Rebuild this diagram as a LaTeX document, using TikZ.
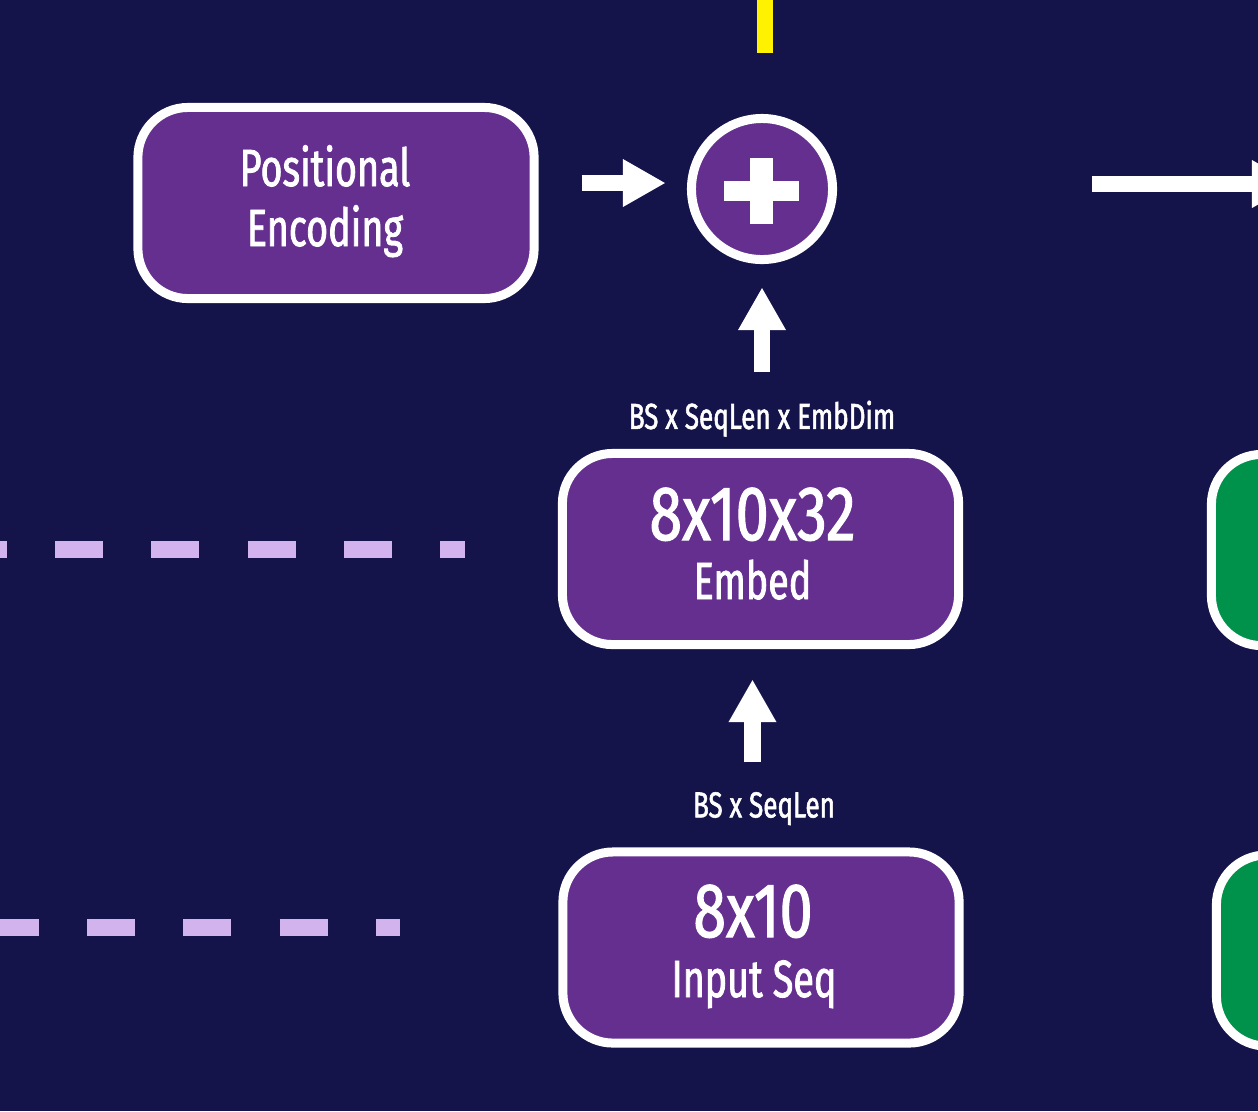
\documentclass[tikz,border=0pt]{standalone}
\usepackage{fontspec}
\setmainfont[FakeStretch=0.72, FakeBold=1.5]{Fira Sans}
\newfontfamily\numfont[FakeStretch=0.77, FakeBold=1.5]{Fira Sans}
\usetikzlibrary{arrows.meta}
\definecolor{navybg}{HTML}{14134A}
\definecolor{vpurple}{HTML}{652F90}
\definecolor{vgreen}{HTML}{00924A}
\definecolor{lavender}{HTML}{D3B3EE}
\tikzset{
  bluebox/.style={draw=white, fill=vpurple, line width=0.09cm, rounded corners=0.5cm,
    minimum width=3.96cm, minimum height=1.91cm, inner sep=0pt},
  greenbox/.style={bluebox, fill=vgreen},
  addcircle/.style={circle, draw=white, fill=vpurple, line width=0.09cm, minimum size=1.41cm, inner sep=0pt},
  boxtext/.style={text=white, inner sep=0pt, font=\fontsize{14.9}{17}\selectfont},
  bignum/.style={text=white, inner sep=0pt, font=\numfont\fontsize{21.9}{25}\selectfont},
  dimlabel/.style={text=white, inner sep=0pt, font=\fontsize{10.3}{12}\selectfont},
  blockarrow/.style={white, line width=0.165cm, -{Triangle[length=0.42cm, width=0.48cm, line width=0pt]}},
  lavdash/.style={lavender, line width=0.17cm, dash pattern=on 0.48cm off 0.4825cm},
  yellowline/.style={yellow, line width=0.16cm}
}
\begin{document}
\begin{tikzpicture}[x=0.01cm, y=-0.01cm]
\fill[navybg] (0,0) rectangle (1258,1111);
\useasboundingbox (0,0) rectangle (1258,1111);
\clip (0,0) rectangle (1258,1111);

% boxes
\node[bluebox] (posenc) at (336,203) {};
\node[bluebox] (embed) at (760.5,549) {};
\node[bluebox] (input) at (761,947.5) {};
\node[greenbox] (outA) at (1409.5,550) {};
\node[greenbox] (outB) at (1414.5,950.5) {};
\node[addcircle] (add) at (762,189) {};

% plus sign
\fill[white] ([shift={(-38,-8)}]add.center) rectangle ([shift={(37,12)}]add.center);
\fill[white] ([shift={(-12,-31)}]add.center) rectangle ([shift={(11,35)}]add.center);

% texts in the boxes
\node[boxtext, anchor=base] (peline1) at ([shift={(-11,-17)}]posenc.center) {Positional};
\node[boxtext, anchor=base] (peline2) at ([shift={(-11,43)}]posenc.center) {Encoding};
\node[bignum, anchor=base] (embdims) at ([shift={(-8,-9)}]embed.center) {8x10x32};
\node[boxtext, anchor=base] (embname) at ([shift={(-8,50)}]embed.center) {Embed};
\node[bignum, anchor=base] (indims) at ([shift={(-8,-10.5)}]input.center) {8x10};
\node[boxtext, anchor=base] (inname) at ([shift={(-7,49.5)}]input.center) {Input Seq};

% shape labels
\node[dimlabel, anchor=base] (embshape) at ([shift={(1.5,-20)}]embed.north) {BS x SeqLen x EmbDim};
\node[dimlabel, anchor=base] (inshape) at ([shift={(3,-30)}]input.north) {BS x SeqLen};

% connectors
\coordinate (peRow) at (0,183);
\coordinate (upCol) at (752.5,0);
\coordinate (exitR) at (1294,184);
\coordinate (topIn) at (765,-10);
\coordinate (tblA) at (-41.25,549.5);
\coordinate (tblB) at (-9.3,927.5);

\draw[blockarrow, shorten <=0.43cm, shorten >=0.22cm] (posenc.east |- peRow) -- (add.west |- peRow);
\draw[blockarrow, shorten <=0.77cm, shorten >=0.24cm] (add.south |- embed.north) -- (add.south);
\draw[blockarrow, shorten <=0.85cm, shorten >=0.31cm] (input.north -| upCol) -- (embed.south -| upCol);
\draw[blockarrow, shorten <=2.55cm] (add.east |- exitR) -- (exitR);
\draw[yellowline, shorten <=0.61cm] (add.north -| topIn) -- (topIn);
\draw[lavdash, shorten >=0.93cm] (tblA) -- (embed.west |- tblA);
\draw[lavdash, shorten >=1.585cm] (tblB) -- (input.west |- tblB);
\end{tikzpicture}
\end{document}
